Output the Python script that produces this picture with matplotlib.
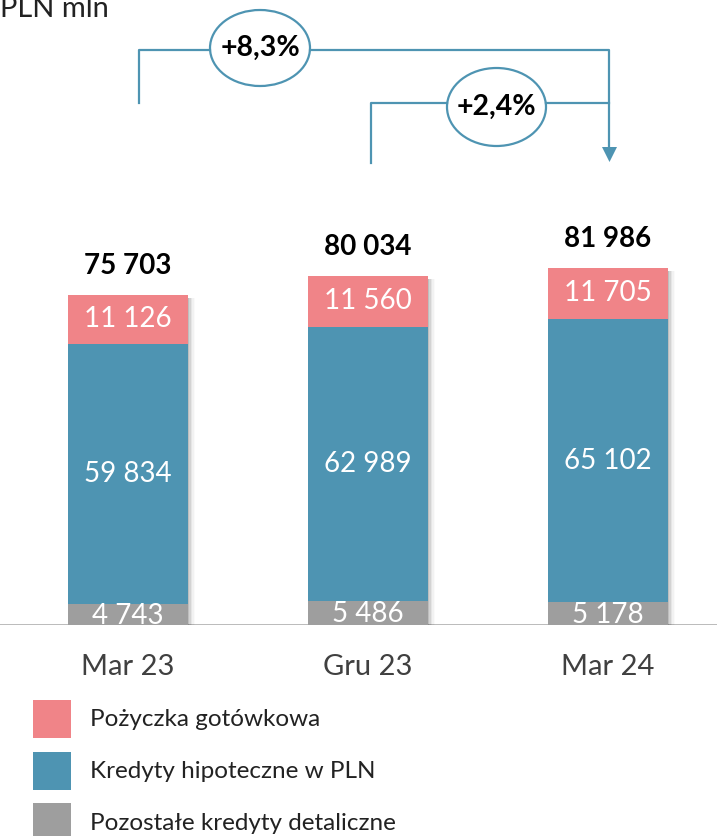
import numpy as np
import matplotlib
matplotlib.use("Agg")
import matplotlib.pyplot as plt
from matplotlib.patches import Ellipse, Rectangle

plt.rcParams['font.family'] = ['Lato', 'DejaVu Sans']

categories = ['Mar 23', 'Gru 23', 'Mar 24']
pozostale = np.array([4743, 5486, 5178])
hipoteczne = np.array([59834, 62989, 65102])
gotowkowa = np.array([11126, 11560, 11705])
totals = np.array([75703, 80034, 81986])
growth_labels = ['+8,3%', '+2,4%']
legend_labels = ['Pożyczka gotówkowa', 'Kredyty hipoteczne w PLN', 'Pozostałe kredyty detaliczne']

c_pink = '#F08488'
c_blue = '#4E94B2'
c_gray = '#9E9E9E'
c_line = '#4E94B2'


def fmt(v):
    return f'{v:,}'.replace(',', ' ')


W, H = 717, 836
fig = plt.figure(figsize=(W / 100, H / 100), dpi=100)

# bars
ax = fig.add_axes([0, 211 / H, 1, 625 / H])
x = np.arange(len(categories))
ax.set_xlim(-128 / 240, 589 / 240)
ax.set_ylim(0, 625 * 229.5)
ax.axis('off')
ax.axhline(0, color='#A6A6A6', lw=1.8, zorder=1)

width = 0.5
# soft shadow on the right side of each bar
for i, a in enumerate([0.10, 0.07, 0.05, 0.03, 0.02]):
    off = 0.006 + i * 0.006
    ax.bar(x + off, totals - 400, width, bottom=-300, color='black', alpha=a,
           linewidth=0, zorder=2)

ax.bar(x, pozostale, width, color=c_gray, zorder=3)
ax.bar(x, hipoteczne, width, bottom=pozostale, color=c_blue, zorder=3)
ax.bar(x, gotowkowa, width, bottom=pozostale + hipoteczne, color=c_pink, zorder=3)

for i in range(len(x)):
    ax.text(x[i], pozostale[i] / 2 - 300, fmt(pozostale[i]), ha='center', va='center',
            color='white', fontsize=20, zorder=4)
    ax.text(x[i], pozostale[i] + hipoteczne[i] / 2, fmt(hipoteczne[i]), ha='center',
            va='center', color='white', fontsize=20, zorder=4)
    ax.text(x[i], pozostale[i] + hipoteczne[i] + gotowkowa[i] / 2, fmt(gotowkowa[i]),
            ha='center', va='center', color='white', fontsize=20, zorder=4)
    ax.annotate(fmt(totals[i]), (x[i], totals[i]), xytext=(0, 29),
                textcoords='offset pixels', ha='center', va='center',
                fontsize=20, fontweight='bold')
    ax.annotate(categories[i], (x[i], 0), xytext=(0, -42),
                textcoords='offset pixels', ha='center', va='center',
                fontsize=21, color='#404040')

# overlay in pixel coordinates for annotations and legend
ov = fig.add_axes([0, 0, 1, 1])
ov.set_xlim(0, W)
ov.set_ylim(H, 0)
ov.axis('off')

ov.text(0, 17, 'PLN mln', fontsize=21, va='baseline', ha='left', color='#222222')

# +8,3% bracket
ov.plot([139, 139, 210], [103, 50, 50], color=c_line, lw=1.6)
ov.plot([310, 609, 609], [50, 50, 150], color=c_line, lw=1.6)
ov.add_patch(Ellipse((260, 48), 100, 76, fill=False, ec=c_line, lw=1.6))
ov.text(260, 48, growth_labels[0], ha='center', va='center', fontsize=20.5, fontweight='bold')
ov.fill([602, 617, 609.5], [147, 147, 162], color=c_line, lw=0)

# +2,4% bracket
ov.plot([371, 371, 447], [163, 103, 103], color=c_line, lw=1.6)
ov.plot([546, 609], [103, 103], color=c_line, lw=1.6)
ov.add_patch(Ellipse((496.5, 107), 99, 78, fill=False, ec=c_line, lw=1.6))
ov.text(496.5, 107, growth_labels[1], ha='center', va='center', fontsize=20.5, fontweight='bold')

# legend
for j, (lab, col) in enumerate(zip(legend_labels, [c_pink, c_blue, c_gray])):
    y0 = 700 + j * 51.5
    ov.add_patch(Rectangle((33, y0), 38, 38, color=col, lw=0))
    ov.text(90, y0 + 20, lab, ha='left', va='center', fontsize=17.5, color='#222222')

fig.savefig('out.png', dpi=100)
